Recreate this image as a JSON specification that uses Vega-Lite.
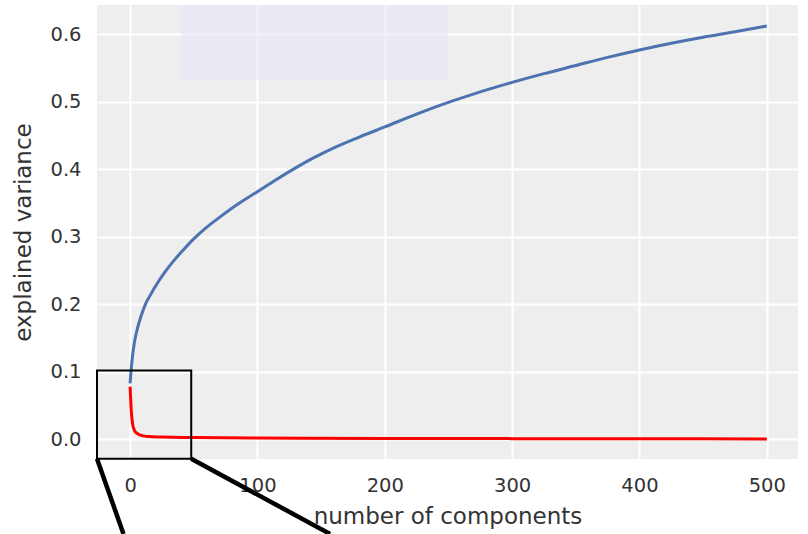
{
  "$schema": "https://vega.github.io/schema/vega-lite/v6.json",
  "width": 701,
  "height": 454,
  "autosize": {"type": "none"},
  "padding": {"left": 97, "top": 5, "right": 10, "bottom": 75},
  "background": "white",
  "config": {
    "view": {"fill": "#EEEEEE", "stroke": null},
    "font": "DejaVu Sans",
    "axis": {
      "grid": true,
      "gridColor": "white",
      "gridWidth": 2,
      "domain": false,
      "ticks": false,
      "labelFont": "DejaVu Sans",
      "labelFontSize": 19.5,
      "labelColor": "#333333",
      "titleFont": "DejaVu Sans",
      "titleFontSize": 23,
      "titleFontWeight": "normal",
      "titleColor": "#333333"
    }
  },
  "datasets": {
    "cumulative": [
      {"x": 0, "y": 0.0828}, {"x": 1, "y": 0.107}, {"x": 2, "y": 0.125}, {"x": 3, "y": 0.139},
      {"x": 4, "y": 0.15}, {"x": 6, "y": 0.166}, {"x": 8, "y": 0.179}, {"x": 10, "y": 0.19},
      {"x": 12, "y": 0.2}, {"x": 16, "y": 0.214}, {"x": 21, "y": 0.23}, {"x": 27, "y": 0.247},
      {"x": 34, "y": 0.264}, {"x": 42, "y": 0.281}, {"x": 50, "y": 0.297}, {"x": 60, "y": 0.314},
      {"x": 71, "y": 0.33}, {"x": 85, "y": 0.349}, {"x": 100, "y": 0.367}, {"x": 114, "y": 0.384},
      {"x": 128, "y": 0.4}, {"x": 144, "y": 0.417}, {"x": 160, "y": 0.432}, {"x": 180, "y": 0.448},
      {"x": 200, "y": 0.463}, {"x": 225, "y": 0.482}, {"x": 251, "y": 0.5}, {"x": 275, "y": 0.515},
      {"x": 300, "y": 0.529}, {"x": 325, "y": 0.542}, {"x": 350, "y": 0.554}, {"x": 375, "y": 0.566},
      {"x": 400, "y": 0.577}, {"x": 425, "y": 0.587}, {"x": 450, "y": 0.596}, {"x": 475, "y": 0.604},
      {"x": 500, "y": 0.6126}
    ],
    "individual": [
      {"x": 0, "y": 0.078}, {"x": 1, "y": 0.04}, {"x": 2, "y": 0.022}, {"x": 3, "y": 0.015},
      {"x": 4, "y": 0.011}, {"x": 6, "y": 0.008}, {"x": 8, "y": 0.006}, {"x": 10, "y": 0.005},
      {"x": 15, "y": 0.004}, {"x": 25, "y": 0.0032}, {"x": 50, "y": 0.0026}, {"x": 100, "y": 0.0019},
      {"x": 200, "y": 0.0012}, {"x": 300, "y": 0.0009}, {"x": 400, "y": 0.0007}, {"x": 500, "y": 0.0005}
    ],
    "shade": [{"x": 40, "x2": 250, "y": 0.532, "y2": 0.6437}],
    "zoombox": [{"x": -26, "x2": 48, "y": -0.029, "y2": 0.102}],
    "connectors": [
      {"x": -26, "y": -0.029, "x2": -5.2, "y2": -0.1404},
      {"x": 48, "y": -0.029, "x2": 157, "y2": -0.1404}
    ]
  },
  "encoding": {
    "x": {
      "field": "x", "type": "quantitative",
      "scale": {"domain": [-26, 524.5], "nice": false, "zero": false},
      "axis": {"values": [0, 100, 200, 300, 400, 500], "title": "number of components", "labelPadding": 17, "titlePadding": 11}
    },
    "y": {
      "field": "y", "type": "quantitative",
      "scale": {"domain": [-0.0293, 0.6437], "nice": false, "zero": false},
      "axis": {"values": [0, 0.1, 0.2, 0.3, 0.4, 0.5, 0.6], "format": ".1f", "title": "explained variance", "labelPadding": 16, "titlePadding": 14}
    }
  },
  "layer": [
    {
      "data": {"name": "shade"},
      "mark": {"type": "rect", "fill": "#E8E6F8", "opacity": 0.6},
      "encoding": {"x2": {"field": "x2"}, "y2": {"field": "y2"}}
    },
    {
      "data": {"name": "cumulative"},
      "mark": {"type": "line", "color": "#4C72B0", "strokeWidth": 3, "interpolate": "monotone"}
    },
    {
      "data": {"name": "individual"},
      "mark": {"type": "line", "color": "#FF0000", "strokeWidth": 3, "interpolate": "monotone"}
    },
    {
      "data": {"name": "zoombox"},
      "mark": {"type": "rect", "fill": null, "fillOpacity": 0, "stroke": "black", "strokeWidth": 2},
      "encoding": {"x2": {"field": "x2"}, "y2": {"field": "y2"}}
    },
    {
      "data": {"name": "connectors"},
      "mark": {"type": "rule", "color": "black", "strokeWidth": 4.5, "clip": false},
      "encoding": {"x2": {"field": "x2"}, "y2": {"field": "y2"}}
    }
  ]
}
